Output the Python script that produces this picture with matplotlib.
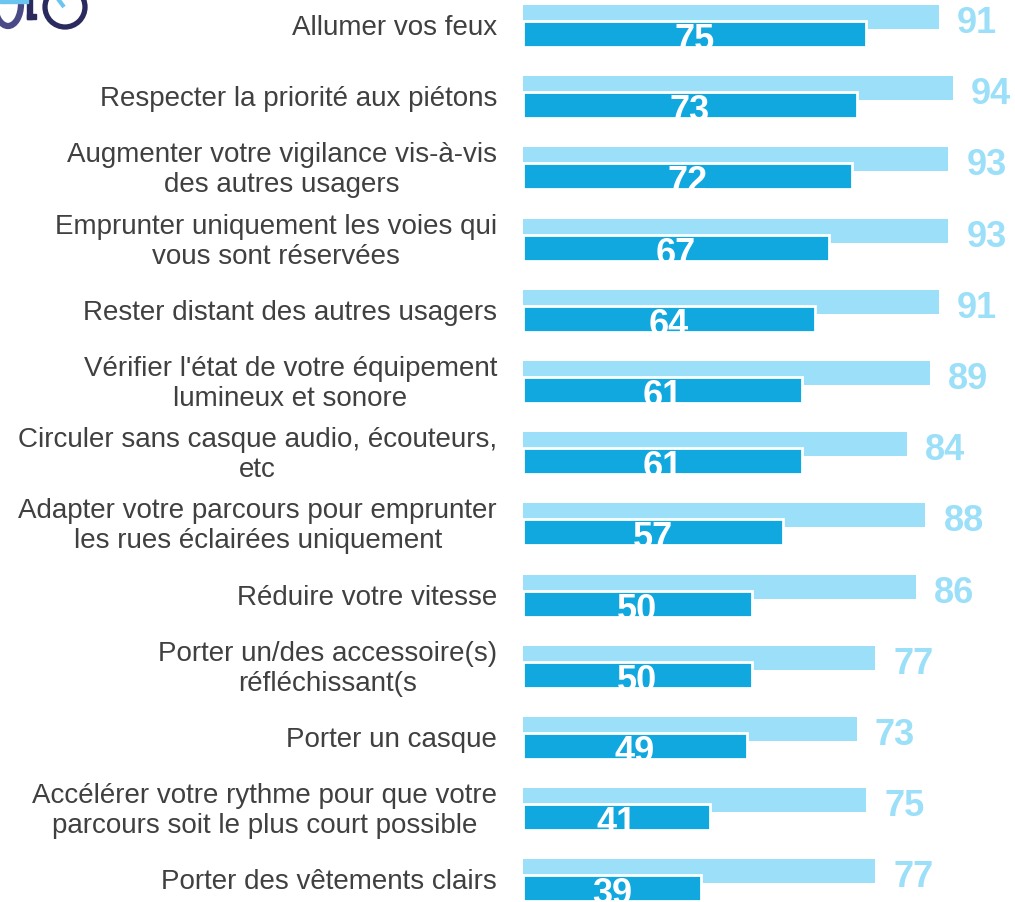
import matplotlib
matplotlib.use("Agg")
import matplotlib.pyplot as plt
from matplotlib.patches import Circle, Arc, Rectangle

plt.rcParams['font.family'] = ['Liberation Sans', 'DejaVu Sans']

categories = [
    "Allumer vos feux",
    "Respecter la priorité aux piétons",
    "Augmenter votre vigilance vis-à-vis\ndes autres usagers",
    "Emprunter uniquement les voies qui\nvous sont réservées",
    "Rester distant des autres usagers",
    "Vérifier l'état de votre équipement\nlumineux et sonore",
    "Circuler sans casque audio, écouteurs,\netc",
    "Adapter votre parcours pour emprunter\nles rues éclairées uniquement",
    "Réduire votre vitesse",
    "Porter un/des accessoire(s)\nréfléchissant(s",
    "Porter un casque",
    "Accélérer votre rythme pour que votre\nparcours soit le plus court possible",
    "Porter des vêtements clairs",
]
light_vals = [91, 94, 93, 93, 91, 89, 84, 88, 86, 77, 73, 75, 77]
dark_vals = [75, 73, 72, 67, 64, 61, 61, 57, 50, 50, 49, 41, 39]

light_col = "#9BDFF9"
dark_col = "#10A8DF"
text_col = "#404040"

W, H = 1015, 903
pitch = 71.2
fig = plt.figure(figsize=(W / 100, H / 100), dpi=100)

# bars axes, from x=523px to right edge
x0 = 523
ax = fig.add_axes([x0 / W, 0, (W - x0) / W, 1])
ax.set_xlim(0, (W - x0) / 4.57)
ax.set_ylim((H - 27) / pitch, -27 / pitch)
ax.axis("off")

n = len(categories)
ys = list(range(n))
ax.barh([y - 9 / pitch for y in ys], light_vals, height=24 / pitch,
        color=light_col, zorder=1)
ax.barh([y + 8 / pitch for y in ys], dark_vals, height=26 / pitch,
        color=dark_col, edgecolor="white", linewidth=2.0, zorder=2)

for y, lab, lv, dv in zip(ys, categories, light_vals, dark_vals):
    ax.text(-26 / 4.57, y + 1 / pitch, lab, ha="right", va="center",
            multialignment="center", fontsize=20, color=text_col,
            clip_on=False, linespacing=1.2)
    ax.text(lv + 4, y + 6 / pitch, str(lv), ha="left", va="baseline",
            fontsize=26, fontweight="bold", color=light_col)
    ax.text(dv / 2, y + 23 / pitch, str(dv), ha="center", va="baseline",
            fontsize=26, fontweight="bold", color="white", zorder=3)

# partial logo in the top-left corner
lax = fig.add_axes([0, 0, 1, 1], zorder=-1)
lax.set_xlim(0, W)
lax.set_ylim(H, 0)
lax.axis("off")
lax.add_patch(Circle((65, 8), 20, fill=False, lw=3.8, color="#2A2A5E"))
lax.add_patch(Arc((8, 5), 26, 44, theta1=0, theta2=180, lw=4.5, color="#4A4A86"))
lax.add_patch(Rectangle((27, 0), 5, 20, color="#2A2A5E"))
lax.add_patch(Rectangle((27, 15), 9, 5, color="#2A2A5E"))
lax.add_patch(Rectangle((0, 0), 28, 4, color="#6CC4F0"))
lax.plot([58, 64], [0, 8], color="#6CC4F0", lw=3, solid_capstyle="butt")

fig.savefig("out.png", dpi=100)
